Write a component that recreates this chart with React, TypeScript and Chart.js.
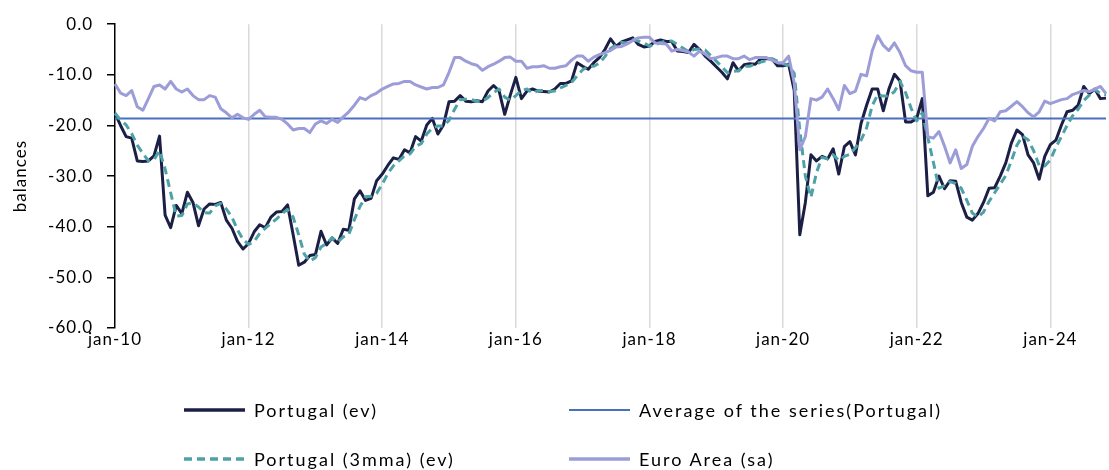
import { useEffect, useRef } from "react";
import { Chart, registerables } from "chart.js";

Chart.register(...registerables);

// Consumer confidence balances, monthly from jan-10
const portugal = [
  -17.6, -20.0, -22.2, -22.5, -27.0, -27.1, -27.0, -26.0, -22.1, -37.7, -40.2, -35.8,
  -37.4, -33.2, -35.2, -39.8, -36.5, -35.5, -35.6, -35.2, -38.7, -40.3, -42.9, -44.4,
  -43.3, -41.0, -39.6, -40.2, -38.1, -37.1, -37.0, -35.7, -41.6, -47.6, -47.0, -45.7,
  -45.5, -40.9, -43.6, -42.2, -43.3, -40.5, -40.7, -34.5, -32.9, -34.8, -34.4, -30.9,
  -29.6, -27.9, -26.4, -26.7, -24.8, -25.4, -22.2, -23.1, -19.9, -18.6, -21.7, -19.9,
  -15.3, -15.2, -14.1, -15.2, -15.3, -15.1, -15.3, -13.2, -12.1, -13.2, -17.8, -14.0,
  -10.5, -14.7, -13.2, -12.8, -13.2, -13.3, -13.4, -12.8, -11.7, -11.7, -11.2, -7.6,
  -8.3, -8.9, -7.6, -6.6, -5.0, -2.9, -4.4, -3.5, -3.1, -2.7, -4.0, -4.5,
  -4.3, -3.4, -3.1, -3.4, -3.4, -5.3, -5.4, -5.6, -4.0, -5.0, -6.3, -7.3,
  -8.4, -9.5, -10.8, -7.6, -9.2, -8.0, -7.8, -7.9, -6.8, -6.8, -6.9, -8.2,
  -8.2, -7.9, -13.1, -41.6, -35.2, -25.8, -27.0, -26.1, -26.6, -24.6, -29.6, -24.2,
  -23.2, -25.8, -19.6, -16.0, -12.8, -12.8, -17.1, -12.8, -9.9, -11.2, -19.3, -19.3,
  -18.6, -14.7, -33.9, -33.2, -30.0, -32.5, -30.9, -31.0, -35.2, -38.1, -38.7, -37.4,
  -35.2, -32.4, -32.3, -30.0, -27.4, -23.5, -20.9, -21.8, -25.8, -27.4, -30.6, -26.1,
  -23.8, -22.9, -19.9, -17.3, -17.0, -16.0, -12.3, -13.7, -12.8, -14.7, -14.6,
];

const portugal3mma = [
  -17.6, -18.9, -19.9, -21.6, -23.9, -25.5, -27.0, -26.7, -25.0, -28.6, -33.3, -37.9,
  -37.8, -35.5, -35.3, -36.1, -37.2, -37.3, -35.9, -35.4, -36.5, -38.1, -40.6, -42.5,
  -43.5, -42.9, -41.3, -40.3, -39.3, -38.5, -37.4, -36.6, -38.1, -41.6, -45.4, -46.8,
  -46.1, -44.0, -43.3, -42.2, -43.0, -42.0, -41.5, -38.6, -36.0, -34.1, -34.0, -33.4,
  -31.6, -29.5, -28.0, -27.0, -26.0, -25.6, -24.1, -23.6, -21.7, -20.5, -20.1, -20.1,
  -19.0, -16.8, -14.9, -14.8, -14.9, -15.2, -15.2, -14.5, -13.5, -12.8, -14.4, -15.0,
  -14.1, -13.1, -12.8, -13.6, -13.1, -13.1, -13.3, -13.2, -12.6, -12.1, -11.5, -10.2,
  -9.0, -8.3, -8.3, -7.7, -6.4, -4.8, -4.1, -3.6, -3.7, -3.1, -3.3, -3.7,
  -4.3, -4.1, -3.6, -3.3, -3.3, -4.0, -4.7, -5.4, -5.0, -4.9, -5.1, -6.2,
  -7.3, -8.4, -9.6, -9.3, -9.2, -8.3, -8.3, -7.9, -7.5, -7.2, -6.8, -7.3,
  -7.8, -8.1, -9.7, -20.9, -30.0, -34.2, -29.3, -26.3, -26.6, -25.8, -26.9, -26.1,
  -25.7, -24.4, -22.9, -20.5, -16.1, -13.9, -14.2, -14.2, -13.3, -11.3, -13.5, -16.6,
  -19.1, -17.5, -22.4, -27.3, -32.4, -31.9, -31.1, -31.5, -32.4, -34.8, -37.3, -38.1,
  -37.1, -35.0, -33.3, -31.6, -29.9, -27.0, -23.9, -22.1, -22.8, -25.0, -27.9, -28.0,
  -26.8, -24.3, -22.2, -20.0, -18.1, -16.8, -15.1, -14.0, -12.9, -13.7, -14.0,
];

const euroArea = [
  -11.8, -13.6, -14.1, -13.1, -16.3, -17.0, -14.7, -12.3, -12.0, -12.8, -11.3, -12.8,
  -13.4, -12.8, -14.1, -14.9, -14.9, -14.1, -14.4, -16.7, -17.5, -18.5, -17.8, -18.5,
  -18.8, -17.8, -17.0, -18.3, -18.4, -18.4, -18.8, -19.7, -20.9, -20.6, -20.6, -21.4,
  -19.7, -19.1, -19.6, -18.8, -19.4, -18.3, -17.3, -16.0, -14.5, -14.9, -14.1, -13.6,
  -12.8, -12.3, -11.8, -11.7, -11.3, -11.3, -12.0, -12.4, -12.8, -12.5, -12.5, -12.0,
  -9.5, -6.6, -6.6, -7.3, -7.8, -8.1, -9.1, -8.4, -7.9, -7.3, -6.6, -6.5,
  -7.3, -7.3, -8.7, -8.4, -8.4, -8.2, -8.7, -8.7, -8.4, -8.2, -7.1, -6.3,
  -6.3, -7.3, -6.5, -6.0, -5.6, -5.2, -4.5, -4.4, -3.9, -3.2, -2.7, -2.6,
  -2.6, -3.7, -3.8, -3.9, -5.3, -5.0, -5.2, -5.5, -6.3, -5.3, -5.9, -6.8,
  -6.6, -6.3, -6.3, -6.8, -6.8, -6.3, -7.0, -6.6, -6.6, -6.6, -7.1, -7.6,
  -7.6, -6.3, -11.6, -24.8, -22.2, -14.7, -15.0, -14.4, -12.8, -14.7, -16.9, -12.1,
  -13.7, -13.2, -9.9, -10.2, -5.3, -2.3, -4.2, -5.2, -3.7, -5.6, -8.2, -9.2,
  -9.5, -9.5, -22.2, -22.5, -21.2, -24.1, -27.4, -24.8, -28.5, -27.7, -24.1, -22.2,
  -20.6, -18.6, -19.1, -17.3, -17.1, -16.2, -15.3, -16.3, -17.5, -18.3, -17.3, -15.2,
  -15.7, -15.3, -14.9, -14.7, -13.9, -13.5, -13.1, -13.3, -12.8, -12.3, -13.7,
];

// Long-run mean of the Portugal series
const portugalAverage = -18.6;

const monthNames = ["jan", "feb", "mar", "apr", "may", "jun", "jul", "aug", "sep", "oct", "nov", "dec"];
const firstYear = 2010;
const months = portugal.map(
  (_, i) => `${monthNames[i % 12]}-${String((firstYear + Math.floor(i / 12)) % 100).padStart(2, "0")}`
);
const labelEvery = 24;

const yTicks = { min: -60, max: 0, step: 10 };

const COLORS = {
  portugal: "#1c1f45",
  average: "#4a6fbf",
  mma: "#4ea2a7",
  euro: "#9c9dd8",
  grid: "#d9d9d9",
  text: "#000000",
};

const FONT = "Lato, 'Open Sans', sans-serif";

type LegendItem = { label: string; color: string; width: number; dash?: string; left: number; top: number };

const legendItems: LegendItem[] = [
  { label: "Portugal (ev)", color: COLORS.portugal, width: 3.5, left: 184, top: 410 },
  { label: "Average of the series(Portugal)", color: COLORS.average, width: 2, left: 569, top: 410 },
  { label: "Portugal (3mma) (ev)", color: COLORS.mma, width: 3.5, dash: "8 5", left: 184, top: 459 },
  { label: "Euro Area (sa)", color: COLORS.euro, width: 3.5, left: 569, top: 459 },
];

// Slightly tracked axis text
const trackedText = {
  id: "trackedText",
  beforeDraw(chart: any) {
    chart.ctx.letterSpacing = "1px";
  },
  afterDraw(chart: any) {
    chart.ctx.letterSpacing = "0px";
  },
};

export default function App() {
  const canvasRef = useRef<HTMLCanvasElement | null>(null);

  useEffect(() => {
    if (!canvasRef.current) return;
    Chart.defaults.font.family = FONT;
    const chart = new Chart(canvasRef.current, {
      type: "line",
      data: {
        labels: months,
        datasets: [
          {
            label: "Portugal (ev)",
            data: portugal,
            borderColor: COLORS.portugal,
            borderWidth: 3,
            pointRadius: 0,
            order: 4,
          },
          {
            label: "Average of the series(Portugal)",
            data: months.map(() => portugalAverage),
            borderColor: COLORS.average,
            borderWidth: 2,
            pointRadius: 0,
            order: 3,
          },
          {
            label: "Portugal (3mma) (ev)",
            data: portugal3mma,
            borderColor: COLORS.mma,
            borderWidth: 3,
            borderDash: [8, 5],
            pointRadius: 0,
            order: 2,
          },
          {
            label: "Euro Area (sa)",
            data: euroArea,
            borderColor: COLORS.euro,
            borderWidth: 3,
            pointRadius: 0,
            order: 1,
          },
        ],
      },
      options: {
        animation: false,
        responsive: true,
        maintainAspectRatio: false,
        layout: { padding: { top: 19, right: 3, bottom: 112, left: 0 } },
        plugins: { legend: { display: false }, tooltip: { enabled: false } },
        elements: { line: { tension: 0, borderJoinStyle: "round", borderCapStyle: "butt" } },
        scales: {
          x: {
            type: "category",
            offset: false,
            afterFit: (scale: any) => {
              scale.height = 30;
            },
            border: { display: false },
            grid: {
              drawTicks: false,
              lineWidth: 1.5,
              color: (ctx: any) => (ctx.index > 0 && ctx.index % labelEvery === 0 ? COLORS.grid : "rgba(0,0,0,0)"),
            },
            ticks: {
              autoSkip: false,
              maxRotation: 0,
              minRotation: 0,
              padding: 1,
              color: COLORS.text,
              font: { size: 17, family: FONT },
              callback: (_v: any, i: number) => (i % labelEvery === 0 ? months[i] : ""),
            },
          },
          y: {
            min: yTicks.min,
            max: yTicks.max,
            afterFit: (scale: any) => {
              scale.width = 115;
            },
            border: { display: true, color: "#000000", width: 1.5 },
            grid: {
              drawOnChartArea: false,
              drawTicks: true,
              tickLength: 8,
              color: "#000000",
              lineWidth: 1.5,
            },
            ticks: {
              stepSize: yTicks.step,
              padding: 14,
              color: COLORS.text,
              font: { size: 17, family: FONT },
              callback: (v: any) => Number(v).toFixed(1),
            },
            title: {
              display: true,
              text: "balances",
              color: COLORS.text,
              font: { size: 17, family: FONT },
              padding: { top: 10, bottom: 0 },
            },
          },
        },
      },
      plugins: [trackedText],
    });
    return () => chart.destroy();
  }, []);

  return (
    <div style={{ position: "fixed", left: 0, top: 0, width: 1109, height: 470, background: "#fff" }}>
      <canvas ref={canvasRef} />
      {legendItems.map((item) => (
        <div
          key={item.label}
          style={{
            position: "absolute",
            left: item.left,
            top: item.top - 12,
            height: 24,
            display: "flex",
            alignItems: "center",
            fontFamily: FONT,
            fontSize: 18,
            letterSpacing: "2px",
            color: COLORS.text,
            whiteSpace: "nowrap",
          }}
        >
          <svg width={61} height={8} style={{ marginRight: 9, display: "block" }}>
            <line
              x1={0}
              y1={4}
              x2={61}
              y2={4}
              stroke={item.color}
              strokeWidth={item.width}
              strokeDasharray={item.dash}
            />
          </svg>
          <span>{item.label}</span>
        </div>
      ))}
    </div>
  );
}
